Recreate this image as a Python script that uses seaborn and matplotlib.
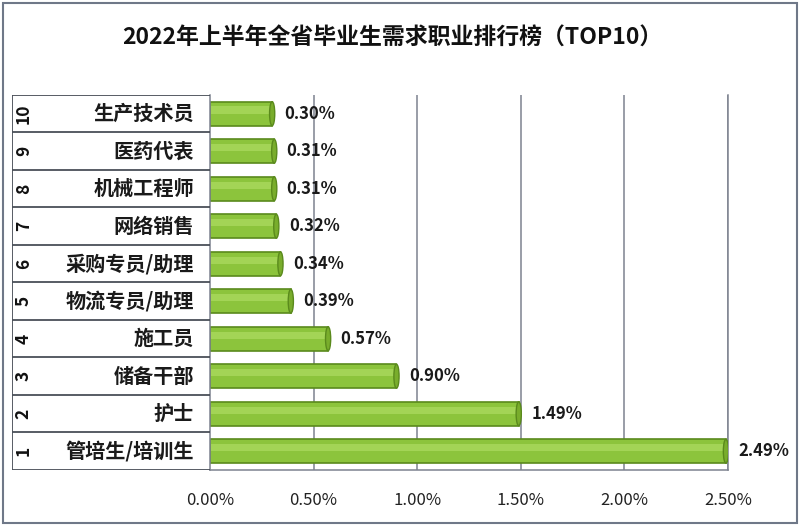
import numpy as np
import pandas as pd
import matplotlib.pyplot as plt
import seaborn as sns
from matplotlib.patches import Ellipse, Rectangle

# data, rank 1 .. 10
ranks = [1, 2, 3, 4, 5, 6, 7, 8, 9, 10]
jobs = ['管培生/培训生', '护士', '储备干部', '施工员', '物流专员/助理',
        '采购专员/助理', '网络销售', '机械工程师', '医药代表', '生产技术员']
shares = [2.49, 1.49, 0.90, 0.57, 0.39, 0.34, 0.32, 0.31, 0.31, 0.30]
x_ticks = [0.0, 0.5, 1.0, 1.5, 2.0, 2.5]
title = '2022年上半年全省毕业生需求职业排行榜（TOP10）'

sns.set_theme(style='white')
plt.rcParams['font.family'] = ['Noto Sans CJK SC', 'DejaVu Sans']

df = pd.DataFrame({'rank': ranks, 'job': jobs, 'share': shares})
order = jobs[::-1]  # rank 10 on top

fig = plt.figure(figsize=(8, 5.26), dpi=100)
ax = fig.add_axes([0.2625, 0.1065, 0.6475, 0.713])
tab = fig.add_axes([0.015, 0.1065, 0.2475, 0.713])

bar_green = '#8cc43c'
edge_green = '#5a8a1c'
sns.barplot(data=df, x='share', y='job', order=order, orient='h',
            color=bar_green, edgecolor=edge_green, linewidth=1.2,
            width=0.64, saturation=1, ax=ax)

# lighter band + end cap for a cylinder look
for p in ax.patches:
    y0, h = p.get_y(), p.get_height()
    ax.add_patch(Rectangle((0.005, y0 + h * 0.2), p.get_width() - 0.01, h * 0.3,
                           facecolor='#a3d456', edgecolor='none', zorder=3))
    ax.add_patch(Ellipse((p.get_width(), y0 + h / 2), 0.025, h,
                         facecolor='#79ad2c', edgecolor=edge_green, lw=1.0, zorder=4))

labels = []
for j in order:
    v = df.loc[df['job'] == j, 'share'].iloc[0]
    labels.append(f'{v:.2f}%')
ax.bar_label(ax.containers[0], labels=labels, padding=9, fontsize=12,
             fontweight='bold', color='#1a1a1a')

ax.set_xlim(0, 2.5)
ax.set_ylim(9.5, -0.5)
ax.set_xticks(x_ticks)
ax.set_xticklabels([f'{t:.2f}%' for t in x_ticks], fontsize=12, color='#222222')
ax.set_yticks([])
ax.set_xlabel('')
ax.set_ylabel('')
ax.tick_params(axis='x', length=0, pad=16)
for t in x_ticks[1:]:
    ax.axvline(t, color='#7d8390', lw=1.1, zorder=0)
for side in ['top', 'bottom', 'left', 'right']:
    ax.spines[side].set_color('#7d8390')
    ax.spines[side].set_linewidth(1.1)
ax.spines['top'].set_visible(False)

# category table on the left
tab.set_xlim(0, 1)
tab.set_ylim(9.5, -0.5)
tab.axis('off')
for i in range(len(order) + 1):
    tab.axhline(i - 0.5, color='#4a4f58', lw=1.3)
tab.axvline(0, color='#4a4f58', lw=1.3)
for i, j in enumerate(order):
    r = df.loc[df['job'] == j, 'rank'].iloc[0]
    tab.text(0.06, i, str(r), rotation=90, ha='center', va='center',
             fontsize=12.5, fontweight='bold', color='#111111')
    tab.text(0.92, i, j, ha='right', va='center', fontsize=14.5,
             fontweight='bold', color='#1a1a1a')

fig.suptitle(title, x=0.49, y=0.95, fontsize=16.5, fontweight='bold', color='#111111')
fig.patches.append(Rectangle((0.004, 0.006), 0.992, 0.988, transform=fig.transFigure,
                             fill=False, edgecolor='#6f7888', lw=1.5))

fig.savefig('out.png', dpi=100, facecolor='white')
